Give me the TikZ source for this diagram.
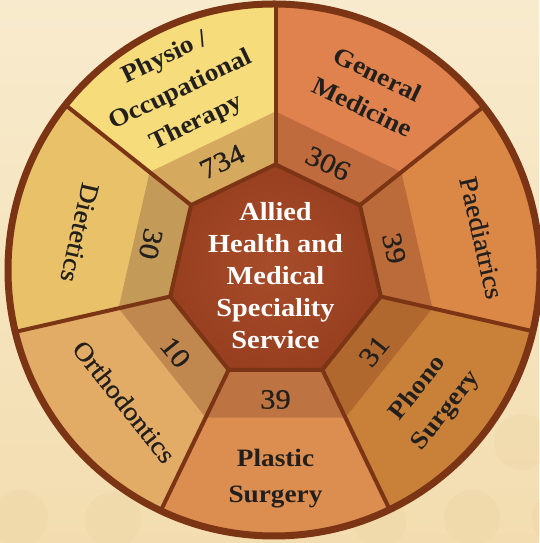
\documentclass[tikz,border=0pt]{standalone}
\usepackage{fontspec}
\setmainfont[FakeStretch=1.09]{Liberation Serif}
\newfontfamily\numfont[FakeStretch=1.09,FakeBold=0.6]{Liberation Serif}
\usetikzlibrary{calc}
\definecolor{bgtop}{HTML}{F8EBCD}
\definecolor{bgbot}{HTML}{F3DDB0}
\definecolor{bokehc}{HTML}{EBD29E}
\definecolor{ringc}{HTML}{7B3414}
\definecolor{txt}{HTML}{231F1C}
\definecolor{genm}{HTML}{E0824D}
\definecolor{genmb}{HTML}{C06B3E}
\definecolor{phys}{HTML}{F6DC7B}
\definecolor{physb}{HTML}{D5A95E}
\definecolor{diet}{HTML}{E8C169}
\definecolor{dietb}{HTML}{C39A58}
\definecolor{orth}{HTML}{E2AC66}
\definecolor{orthb}{HTML}{C0884F}
\definecolor{plas}{HTML}{DC8E50}
\definecolor{plasb}{HTML}{BE7343}
\definecolor{phon}{HTML}{C9813A}
\definecolor{phonb}{HTML}{B0682F}
\definecolor{paed}{HTML}{DB8746}
\definecolor{paedb}{HTML}{BA6B39}
\definecolor{ctrin}{HTML}{A84D2A}
\definecolor{ctrout}{HTML}{983F20}
\tikzset{
  spoke/.style={draw=ringc,line width=4pt},
  lbl/.style={text=txt,font=\fontsize{25}{36}\selectfont\bfseries,align=center,inner sep=0pt},
  lblr/.style={text=txt,font=\fontsize{26}{36}\numfont,align=center,inner sep=0pt},
  num/.style={text=txt,font=\fontsize{28}{30}\numfont,inner sep=0pt},
  ctr/.style={text=white,font=\fontsize{26}{32}\selectfont\bfseries,align=center,inner sep=0pt},
  bokeh/.style={fill=bokehc,fill opacity=0.25}
}
\begin{document}
\begin{tikzpicture}[x=1pt,y=1pt]
\useasboundingbox (0,0) rectangle (539,543);
\shade[top color=bgtop,bottom color=bgbot] (0,0) rectangle (539,543);
\fill[bokeh] (522,101) circle (28);
\fill[bokeh] (472,25) circle (28);
\fill[bokeh] (560,25) circle (28);
\fill[bokeh] (113,23) circle (28);
\fill[bokeh] (20,25) circle (28);
\fill[bokeh] (380,20) circle (26);
\coordinate (H) at (275.5,270.5);
\coordinate (C) at (274,273);
\begin{scope}
\clip (C) circle (266);
\foreach \a/\col/\band in {38.5714/genm/genmb,90/phys/physb,141.4286/diet/dietb,192.8571/orth/orthb,244.2857/plas/plasb,295.7143/phon/phonb,347.1429/paed/paedb}{
  \fill[\col] (H) -- ($(H)+(\a:108)$) -- ($(H)+(\a:420)$) -- ($(H)+(\a+51.4286:420)$) -- ($(H)+(\a+51.4286:108)$) -- cycle;
  \fill[\band] ($(H)+(\a:108)$) -- ($(H)+(\a:161)$) -- ($(H)+(\a+51.4286:161)$) -- ($(H)+(\a+51.4286:108)$) -- cycle;
}
\foreach \a in {38.5714,90,141.4286,192.8571,244.2857,295.7143,347.1429}{
  \draw[spoke] ($(H)+(\a:108)$) -- ($(H)+(\a:420)$);
}
\end{scope}
\shade[inner color=ctrin,outer color=ctrout] ($(H)+(90:108)$) -- ($(H)+(141.4286:108)$) -- ($(H)+(192.8571:108)$) -- ($(H)+(244.2857:108)$) -- ($(H)+(295.7143:108)$) -- ($(H)+(347.1429:108)$) -- ($(H)+(38.5714:108)$) -- cycle;
\draw[ringc,line width=4pt,line join=round] ($(H)+(90:108)$) -- ($(H)+(141.4286:108)$) -- ($(H)+(192.8571:108)$) -- ($(H)+(244.2857:108)$) -- ($(H)+(295.7143:108)$) -- ($(H)+(347.1429:108)$) -- ($(H)+(38.5714:108)$) -- cycle;
\draw[ringc,line width=7pt] (C) circle (266);
% centre text
\node[ctr] (centre) at ($(H)+(0,-3)$) {Allied\\Health and\\Medical\\Speciality\\Service};
% labels
\node[lbl,rotate=25.71] (lphys) at ($(H)+(117.5:205)$) {Physio /\\Occupational\\Therapy};
\node[lbl,rotate=-25.71] (lgenm) at ($(H)+(62.5:205)$) {General\\Medicine};
\node[lblr,rotate=-77.14] (lpaed) at ($(H)+(9.6:209)$) {Paediatrics};
\node[lbl,rotate=51.43] (lphon) at ($(H)+(321:202)$) {Phono\\Surgery};
\node[lbl,rotate=0] (lplas) at ($(H)+(270:206)$) {Plastic\\Surgery};
\node[lblr,rotate=-51.43] (lorth) at ($(H)+(220.5:199)$) {Orthodontics};
\node[lblr,rotate=-102.86] (ldiet) at ($(H)+(168.5:200)$) {Dietetics};
% numbers
\node[num,rotate=25.71] (nphys) at ($(H)+(115.71:123)$) {734};
\node[num,rotate=-25.71] (ngenm) at ($(H)+(64.29:121)$) {306};
\node[num,rotate=-77.14] (npaed) at ($(H)+(11.5:121)$) {39};
\node[num,rotate=51.43] (nphon) at ($(H)+(321.43:126)$) {31};
\node[num,rotate=0] (nplas) at ($(H)+(270:127)$) {39};
\node[num,rotate=-51.43] (north) at ($(H)+(218.57:128)$) {10};
\node[num,rotate=-102.86] (ndiet) at ($(H)+(167.14:128)$) {30};
\end{tikzpicture}
\end{document}
